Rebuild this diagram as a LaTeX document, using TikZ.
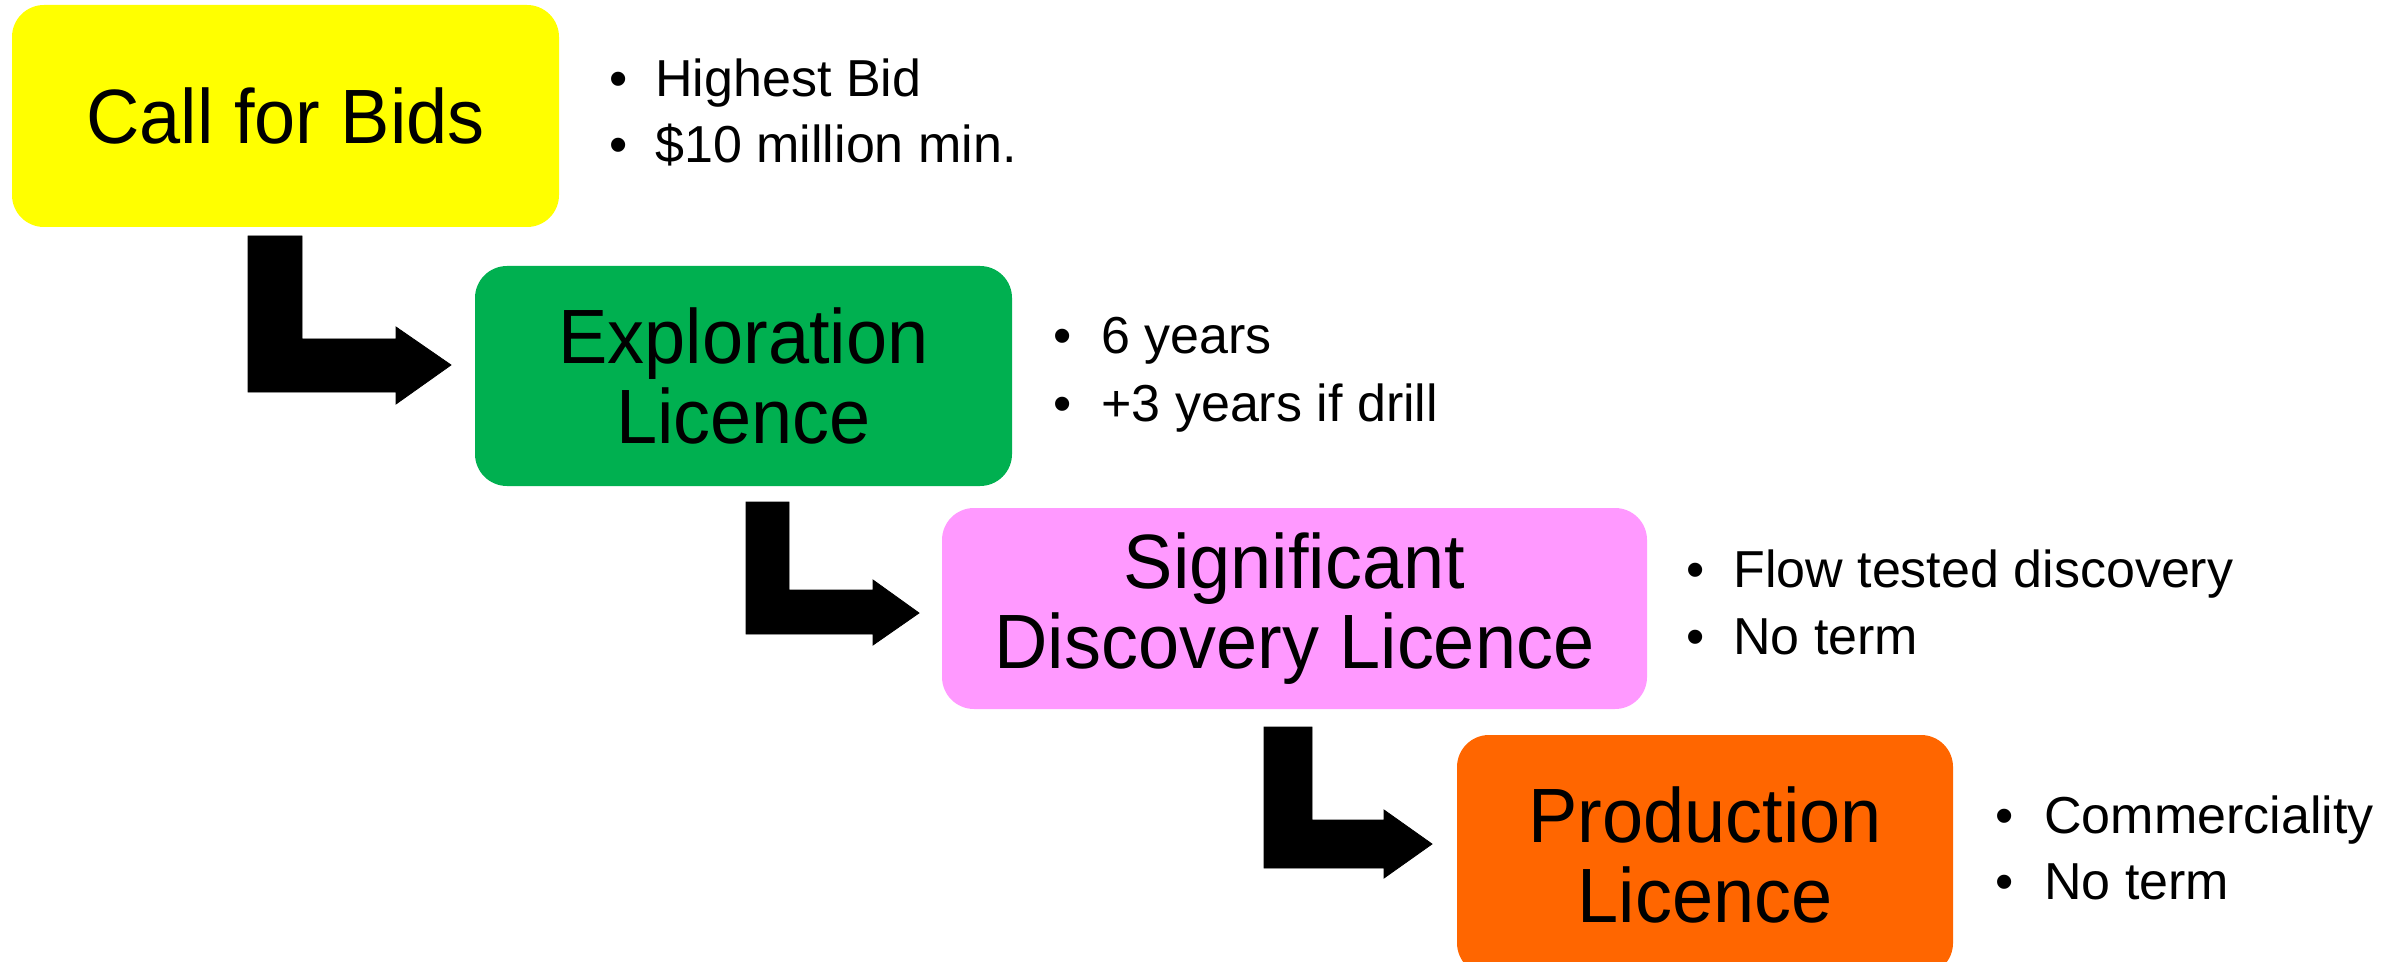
\documentclass[tikz,border=0pt]{standalone}
\usepackage{fontspec}
\setmainfont{Liberation Sans}
\newfontfamily\boxfont[FakeStretch=0.96]{Liberation Sans}
\definecolor{cyellow}{HTML}{FFFF00}
\definecolor{cgreen}{HTML}{00B050}
\definecolor{cpink}{HTML}{FF99FF}
\definecolor{corange}{HTML}{FF6600}
\begin{document}
\begin{tikzpicture}[x=0.5pt,y=-0.5pt,
  box/.style={rectangle, rounded corners=16pt, inner sep=0pt, align=center,
    font=\boxfont\fontsize{38.5}{40}\selectfont},
  bul/.style={anchor=base, inner sep=0pt, font=\fontsize{26}{30}\selectfont},
  btxt/.style={anchor=base west, inner sep=0pt, font=\fontsize{26}{30}\selectfont},
  blockarrow/.style={fill=black}]
\useasboundingbox (0,0) rectangle (2396,962);

% boxes
\node[box, fill=cyellow, minimum width=273.5pt, minimum height=111pt] (cfb) at (285.5,116) {Call for Bids};
\node[box, fill=cgreen, minimum width=268.5pt, minimum height=110pt] (expl) at (743.5,376) {Exploration\\Licence};
\node[box, fill=cpink, minimum width=352.5pt, minimum height=100.5pt] (sdl) at (1294.5,608.5) {Significant\\Discovery Licence};
\node[box, fill=corange, minimum width=248pt, minimum height=120pt] (prod) at (1705,855) {Production\\Licence};

% block arrows
\draw[blockarrow] (248,236) -- (302,236) -- (302,339) -- (396,339) -- (396,327) -- (451,365) -- (396,404) -- (396,392) -- (248,392) -- cycle;
\draw[blockarrow] (746,502) -- (789,502) -- (789,590) -- (873,590) -- (873,580) -- (919,613) -- (873,645) -- (873,634) -- (746,634) -- cycle;
\draw[blockarrow] (1264,727) -- (1312,727) -- (1312,820) -- (1384,820) -- (1384,810) -- (1432,844) -- (1384,878) -- (1384,868) -- (1264,868) -- cycle;

% bullets
\node[bul] (b1a) at (618.5,97) {•};
\node[btxt] (t1a) at (655,97) {Highest Bid};
\node[bul] (b1b) at (618.5,163) {•};
\node[btxt] (t1b) at (655,163) {\$10 million min.};

\node[bul] (b2a) at (1063,354) {•};
\node[btxt] (t2a) at (1101,354) {6 years};
\node[bul] (b2b) at (1063,421) {•};
\node[btxt] (t2b) at (1101,421) {+3 years if drill};

\node[bul] (b3a) at (1696,587) {•};
\node[btxt] (t3a) at (1733,587) {Flow tested discovery};
\node[bul] (b3b) at (1696,654) {•};
\node[btxt] (t3b) at (1733,654) {No term};

\node[bul] (b4a) at (2005,833) {•};
\node[btxt] (t4a) at (2044,833) {Commerciality};
\node[bul] (b4b) at (2005,899) {•};
\node[btxt] (t4b) at (2044,899) {No term};
\end{tikzpicture}
\end{document}
